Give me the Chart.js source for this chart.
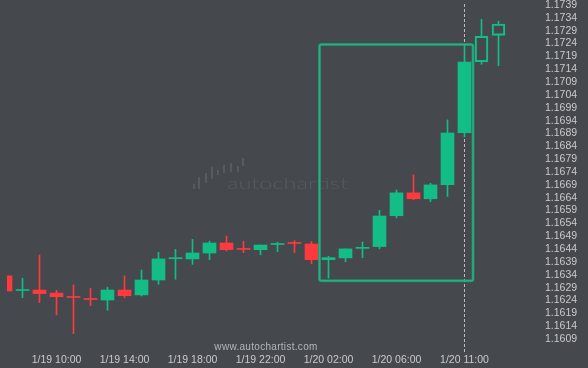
<!DOCTYPE html>
<html>
<head>
<meta charset="utf-8">
<script src="https://cdn.jsdelivr.net/npm/chart.js@4"></script>
<style>
html, body { margin: 0; padding: 0; background: #45484d; }
</style>
</head>
<body>
<canvas id="chart" width="588" height="368"></canvas>
<script>
// hourly candles, 1/19 07:00 onwards
const opens  = [1.16336, 1.16279, 1.16281, 1.16269, 1.16254, 1.16246, 1.16242, 1.16281, 1.16262, 1.16320,
                1.16403, 1.16402, 1.16425, 1.16464, 1.16441, 1.16438, 1.16458, 1.16464, 1.16460, 1.16399,
                1.16406, 1.16443, 1.16450, 1.16570, 1.16659, 1.16636, 1.16691, 1.16893, 1.17169, 1.17272];
const highs  = [1.16338, 1.16327, 1.16417, 1.16280, 1.16301, 1.16288, 1.16292, 1.16336, 1.16359, 1.16428,
                1.16439, 1.16478, 1.16471, 1.16491, 1.16471, 1.16456, 1.16467, 1.16473, 1.16470, 1.16412,
                1.16441, 1.16468, 1.16591, 1.16670, 1.16729, 1.16696, 1.16943, 1.17234, 1.17334, 1.17327];
const lows   = [1.16275, 1.16251, 1.16232, 1.16184, 1.16111, 1.16220, 1.16202, 1.16251, 1.16258, 1.16303,
                1.16323, 1.16381, 1.16399, 1.16433, 1.16426, 1.16418, 1.16430, 1.16426, 1.16383, 1.16327,
                1.16391, 1.16407, 1.16441, 1.16562, 1.16632, 1.16625, 1.16645, 1.16878, 1.17159, 1.17154];
const closes = [1.16277, 1.16281, 1.16267, 1.16255, 1.16252, 1.16244, 1.16281, 1.16259, 1.16320, 1.16402,
                1.16405, 1.16425, 1.16464, 1.16438, 1.16439, 1.16456, 1.16460, 1.16462, 1.16399, 1.16407,
                1.16441, 1.16447, 1.16569, 1.16659, 1.16636, 1.16690, 1.16892, 1.17168, 1.17269, 1.17316];
// candles after the pattern was found are drawn hollow
const projected = [28, 29];

const timeTicks  = [3, 7, 11, 15, 19, 23, 27];
const timeLabels = ['1/19 10:00', '1/19 14:00', '1/19 18:00', '1/19 22:00', '1/20 02:00', '1/20 06:00', '1/20 11:00'];

const priceLabels = ['1.1609', '1.1614', '1.1619', '1.1624', '1.1629', '1.1634', '1.1639', '1.1644', '1.1649',
                     '1.1654', '1.1659', '1.1664', '1.1669', '1.1674', '1.1679', '1.1684', '1.1689', '1.1694',
                     '1.1699', '1.1704', '1.1709', '1.1714', '1.1719', '1.1724', '1.1729', '1.1734', '1.1739'];

// pattern rectangle (candle index / price) and the "now" marker
const boxStart = 18.47;
const boxEnd = 27.5;
const boxTop = 1.17236;
const boxBottom = 1.16317;
const nowIndex = 27;

const GREEN = '#13bd86';
const RED = '#ff3a3e';
const BG = '#45484d';

const isHollow = (i) => projected.includes(i);
const candleColor = (i) => closes[i] >= opens[i] ? GREEN : RED;

const bodies = opens.map((o, i) => ({ x: i, y: [o, closes[i]] }));
const upperWicks = opens.map((o, i) => ({ x: i, y: [Math.max(o, closes[i]), highs[i]] }));
const lowerWicks = opens.map((o, i) => ({ x: i, y: [lows[i], Math.min(o, closes[i])] }));

const extras = {
    id: 'extras',
    beforeDraw(chart) {
        const ctx = chart.ctx;
        ctx.save();
        ctx.fillStyle = BG;
        ctx.fillRect(0, 0, chart.width, chart.height);
        ctx.restore();
    },
    beforeDatasetsDraw(chart) {
        const ctx = chart.ctx;
        const x = chart.scales.x;
        ctx.save();

        // watermark logo
        ctx.fillStyle = '#575a5f';
        const bars = [[193, 184, 2, 5], [198, 177, 2, 12], [205, 173, 2, 10], [211, 167, 2, 12], [217, 170, 2, 5],
                      [223, 165, 2, 8], [230, 163, 2, 9], [237, 166, 2, 6], [242, 158, 2, 8]];
        for (let b of bars) {
            ctx.fillRect(b[0], b[1], b[2], b[3]);
        }
        ctx.font = '300 15px Lato';
        ctx.textBaseline = 'alphabetic';
        ctx.textAlign = 'left';
        const w = ctx.measureText('autochartist').width;
        ctx.save();
        ctx.translate(227, 189);
        ctx.scale(121 / w, 1);
        ctx.fillText('autochartist', 0, 0);
        ctx.restore();

        ctx.fillStyle = '#b4b6b9';
        ctx.font = '10px "Liberation Sans"';
        ctx.textAlign = 'center';
        ctx.textBaseline = 'middle';
        ctx.letterSpacing = '0.3px';
        ctx.fillText('www.autochartist.com', 266, 347);
        ctx.letterSpacing = '0px';

        // dashed "now" line
        const nx = Math.floor(x.getPixelForValue(nowIndex)) + 0.5;
        ctx.strokeStyle = '#b9bbbe';
        ctx.lineWidth = 1;
        ctx.setLineDash([3, 2]);
        ctx.beginPath();
        ctx.moveTo(nx, 4);
        ctx.lineTo(nx, chart.chartArea.bottom);
        ctx.stroke();
        ctx.restore();
    },
    afterDatasetsDraw(chart) {
        const ctx = chart.ctx;
        const x = chart.scales.x;
        const y = chart.scales.y;
        const left = x.getPixelForValue(boxStart);
        const right = x.getPixelForValue(boxEnd);
        const top = y.getPixelForValue(boxTop);
        const bottom = y.getPixelForValue(boxBottom);
        ctx.save();
        ctx.strokeStyle = 'rgba(27, 178, 124, 0.55)';
        ctx.lineWidth = 3;
        ctx.beginPath();
        ctx.roundRect(left, top, right - left, bottom - top, 2);
        ctx.stroke();
        ctx.strokeStyle = '#1fb583';
        ctx.lineWidth = 1.5;
        ctx.beginPath();
        ctx.roundRect(left, top, right - left, bottom - top, 2);
        ctx.stroke();
        ctx.restore();
    }
};

const ctx = document.getElementById('chart').getContext('2d');
const chart = new Chart(ctx, {
    type: 'bar',
    data: {
        datasets: [
            {
                label: 'upper wick',
                data: upperWicks,
                barThickness: 1,
                backgroundColor: (c) => candleColor(c.dataIndex),
                borderWidth: 0,
                grouped: false,
                order: 2
            },
            {
                label: 'lower wick',
                data: lowerWicks,
                barThickness: 1,
                backgroundColor: (c) => candleColor(c.dataIndex),
                borderWidth: 0,
                grouped: false,
                order: 2
            },
            {
                label: 'body',
                data: bodies,
                barThickness: 13,
                minBarLength: 1,
                backgroundColor: (c) => isHollow(c.dataIndex) ? 'rgba(0,0,0,0)' : candleColor(c.dataIndex),
                borderColor: GREEN,
                borderWidth: (c) => isHollow(c.dataIndex) ? 1.5 : 0,
                borderSkipped: false,
                grouped: false,
                order: 1
            }
        ]
    },
    options: {
        responsive: false,
        animation: false,
        devicePixelRatio: 1,
        layout: { padding: { left: 7, right: 0, top: 0, bottom: 0 } },
        plugins: {
            legend: { display: false },
            tooltip: { enabled: false }
        },
        scales: {
            x: {
                type: 'linear',
                position: 'bottom',
                offset: false,
                min: 1.5 / 17,
                max: 1.5 / 17 + 533 / 17,
                grid: { display: false, drawTicks: false },
                border: { display: false },
                afterBuildTicks: (s) => { s.ticks = timeTicks.map((v) => ({ value: v })); },
                afterFit: (s) => {
                    s.height = 16;
                    s.paddingLeft = 0;
                    s.paddingRight = 0;
                },
                ticks: {
                    autoSkip: false,
                    maxRotation: 0,
                    padding: 2,
                    color: '#c9cacc',
                    font: { family: '"Liberation Sans"', size: 10.5 },
                    callback: (v) => timeLabels[timeTicks.indexOf(v)]
                }
            },
            y: {
                type: 'linear',
                position: 'right',
                beginAtZero: false,
                min: 1.1739 - 347 / 25700,
                max: 1.1739 + 5 / 25700,
                grid: { display: false, drawTicks: false },
                border: { display: false },
                afterBuildTicks: (s) => { s.ticks = priceLabels.map((p) => ({ value: parseFloat(p) })); },
                afterFit: (s) => {
                    s.width = 48;
                    s.paddingTop = 0;
                    s.paddingBottom = 0;
                },
                ticks: {
                    autoSkip: false,
                    padding: 5,
                    color: '#c9cacc',
                    font: { family: '"Liberation Sans"', size: 10.5 },
                    callback: (v) => v.toFixed(4)
                }
            }
        }
    },
    plugins: [extras]
});
</script>
</body>
</html>
